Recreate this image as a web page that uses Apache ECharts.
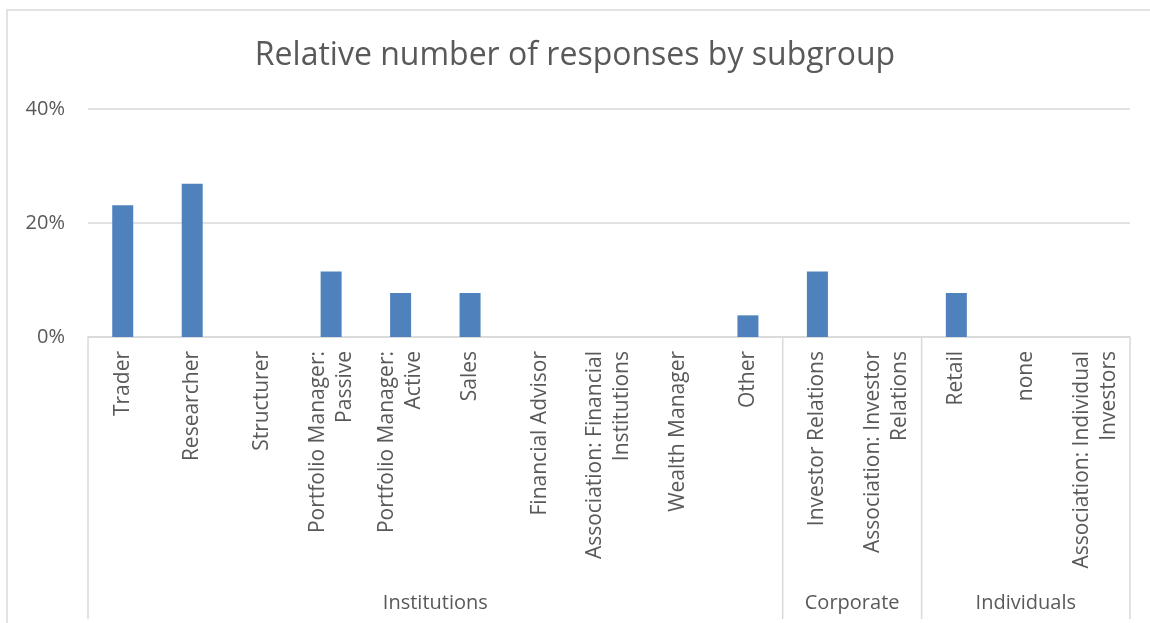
<!DOCTYPE html>
<html>
<head>
<meta charset="utf-8">
<script src="https://cdn.jsdelivr.net/npm/echarts@6/dist/echarts.min.js"></script>
<style>
  html, body { margin: 0; padding: 0; background: #fff; }
  #chart { width: 1150px; height: 623px; }
</style>
</head>
<body>
<div id="chart"></div>
<script>
const subgroups = [
  'Trader', 'Researcher', 'Structurer', 'Portfolio Manager:\nPassive',
  'Portfolio Manager:\nActive', 'Sales', 'Financial Advisor',
  'Association: Financial\nInstitutions', 'Wealth Manager', 'Other',
  'Investor Relations', 'Association: Investor\nRelations',
  'Retail', 'none', 'Association: Individual\nInvestors'
];
const shares = [23.1, 26.9, 0, 11.5, 7.7, 7.7, 0, 0, 0, 3.8, 11.5, 0, 7.7, 0, 0];
const groupNames = ['Institutions', 'Corporate', 'Individuals'];
const groupStart = [0, 10, 12];
const groupEnd = [9, 11, 14];
const yTicks = [0, 20, 40];

const textColor = '#595959';
const lineColor = '#d9d9d9';
const font = '"Open Sans", sans-serif';

const chart = echarts.init(document.getElementById('chart'));

chart.setOption({
  backgroundColor: '#fff',
  animation: false,
  textStyle: { fontFamily: font },
  title: {
    text: 'Relative number of responses by subgroup',
    left: 'center',
    top: 35,
    textStyle: { color: textColor, fontSize: 32, fontWeight: 'normal', fontFamily: font }
  },
  grid: { left: 88, right: 20, top: 109, bottom: 286 },
  xAxis: {
    type: 'category',
    data: subgroups,
    axisLine: { lineStyle: { color: lineColor, width: 1.5 } },
    axisTick: { show: false },
    axisLabel: {
      rotate: 90,
      interval: 0,
      margin: 14,
      color: textColor,
      fontSize: 21,
      lineHeight: 27,
      fontFamily: font
    }
  },
  yAxis: {
    type: 'value',
    min: yTicks[0],
    max: yTicks[yTicks.length - 1],
    interval: 20,
    axisLine: { show: false },
    axisTick: { show: false },
    splitLine: { lineStyle: { color: lineColor, width: 1.5 } },
    axisLabel: {
      margin: 23,
      color: textColor,
      fontSize: 20,
      fontFamily: font,
      formatter: v => v + '%'
    }
  },
  series: [{
    type: 'bar',
    data: shares,
    barWidth: 21,
    itemStyle: { color: '#4f81bd' }
  }]
});

// border frame and group level of the category axis
const bw = chart.convertToPixel({ xAxisIndex: 0 }, 1) - chart.convertToPixel({ xAxisIndex: 0 }, 0);
const y0 = chart.convertToPixel({ yAxisIndex: 0 }, 0);
const elements = [{
  type: 'rect',
  shape: { x: 7, y: 10, width: 1160, height: 640 },
  style: { fill: null, stroke: lineColor, lineWidth: 1.5 },
  silent: true
}];
const bounds = new Set();
groupNames.forEach((name, i) => {
  const x1 = chart.convertToPixel({ xAxisIndex: 0 }, groupStart[i]) - bw / 2;
  const x2 = chart.convertToPixel({ xAxisIndex: 0 }, groupEnd[i]) + bw / 2;
  bounds.add(Math.round(x1 * 10) / 10);
  bounds.add(Math.round(x2 * 10) / 10);
  elements.push({
    type: 'text',
    x: (x1 + x2) / 2,
    y: 603,
    style: {
      text: name, fill: textColor, fontSize: 20, fontFamily: font,
      align: 'center', verticalAlign: 'middle'
    },
    silent: true
  });
});
bounds.forEach(x => {
  elements.push({
    type: 'line',
    shape: { x1: x, y1: y0, x2: x, y2: 619 },
    style: { stroke: lineColor, lineWidth: 1.5 },
    silent: true
  });
});
chart.setOption({ graphic: { elements } });

window.addEventListener('resize', () => chart.resize());
</script>
</body>
</html>
